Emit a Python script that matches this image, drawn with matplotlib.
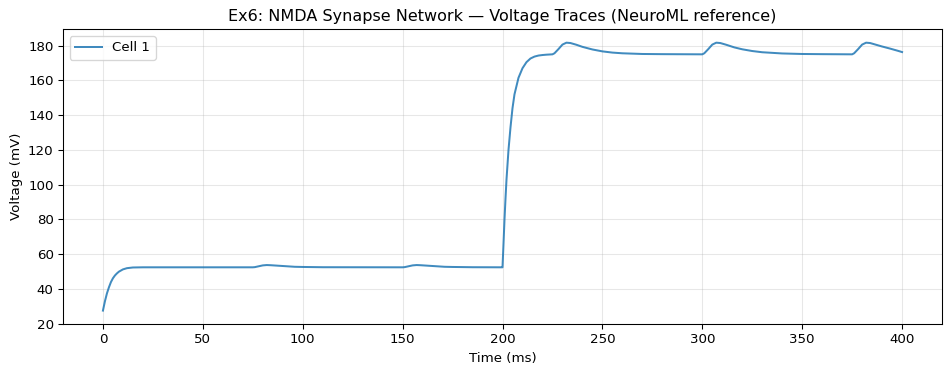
import matplotlib

matplotlib.use("Agg")
import matplotlib.pyplot as plt

# Traço de voltagem (ms, mV)
tempo = [
    0, 1, 2, 3, 4, 5, 6, 7, 8, 10, 12, 15, 20, 30, 75,
    76, 78, 80, 82, 84, 88, 92, 96, 100, 110, 150,
    151, 153, 155, 157, 159, 163, 167, 171, 175, 185, 199.9,
    200, 200.5, 201, 201.5, 202, 203, 204, 205, 206, 208, 210, 212, 214, 216, 218, 220, 222, 225,
    226, 228, 230, 232, 234, 237, 240, 245, 250, 255, 260, 270, 280, 300,
    301, 303, 305, 307, 309, 312, 316, 320, 325, 330, 340, 350, 360, 375,
    376, 378, 380, 382, 384, 387, 390, 394, 398, 400,
]
voltagem = [
    27.6, 33.0, 37.5, 41.0, 44.0, 46.2, 47.8, 49.0, 50.0, 51.3, 52.0, 52.4, 52.5, 52.5, 52.5,
    52.6, 53.1, 53.6, 53.8, 53.7, 53.4, 53.1, 52.8, 52.7, 52.55, 52.5,
    52.6, 53.1, 53.6, 53.8, 53.7, 53.4, 53.1, 52.8, 52.7, 52.55, 52.5,
    52.5, 66.0, 80.0, 92.0, 103.0, 120.0, 133.0, 144.0, 152.0, 161.5, 167.0, 170.5, 172.6, 173.7, 174.3, 174.6, 174.8, 175.0,
    175.6, 178.0, 180.6, 181.7, 181.5, 180.5, 179.3, 177.8, 176.7, 176.0, 175.6, 175.2, 175.1, 175.0,
    175.6, 178.0, 180.6, 181.7, 181.5, 180.5, 179.0, 177.9, 176.9, 176.2, 175.5, 175.2, 175.1, 175.0,
    175.6, 178.0, 180.6, 181.7, 181.5, 180.5, 179.5, 178.3, 177.0, 176.3,
]
rotulo = "Cell 1"

# dpi 96 deixa o texto um pouco menor, como na referência
fig, ax = plt.subplots(figsize=(950 / 96, 374 / 96), dpi=96)
ax.plot(tempo, voltagem, color="tab:blue", lw=1.5, alpha=0.85, label=rotulo)
ax.set_xlabel("Time (ms)")
ax.set_ylabel("Voltage (mV)")
ax.set_title("Ex6: NMDA Synapse Network \u2014 Voltage Traces (NeuroML reference)")
ax.grid(True, alpha=0.3)
ax.legend(loc="upper left")
fig.subplots_adjust(left=0.0663, right=0.9916, top=0.9217, bottom=0.1337)
fig.savefig("out.png", dpi=96)
